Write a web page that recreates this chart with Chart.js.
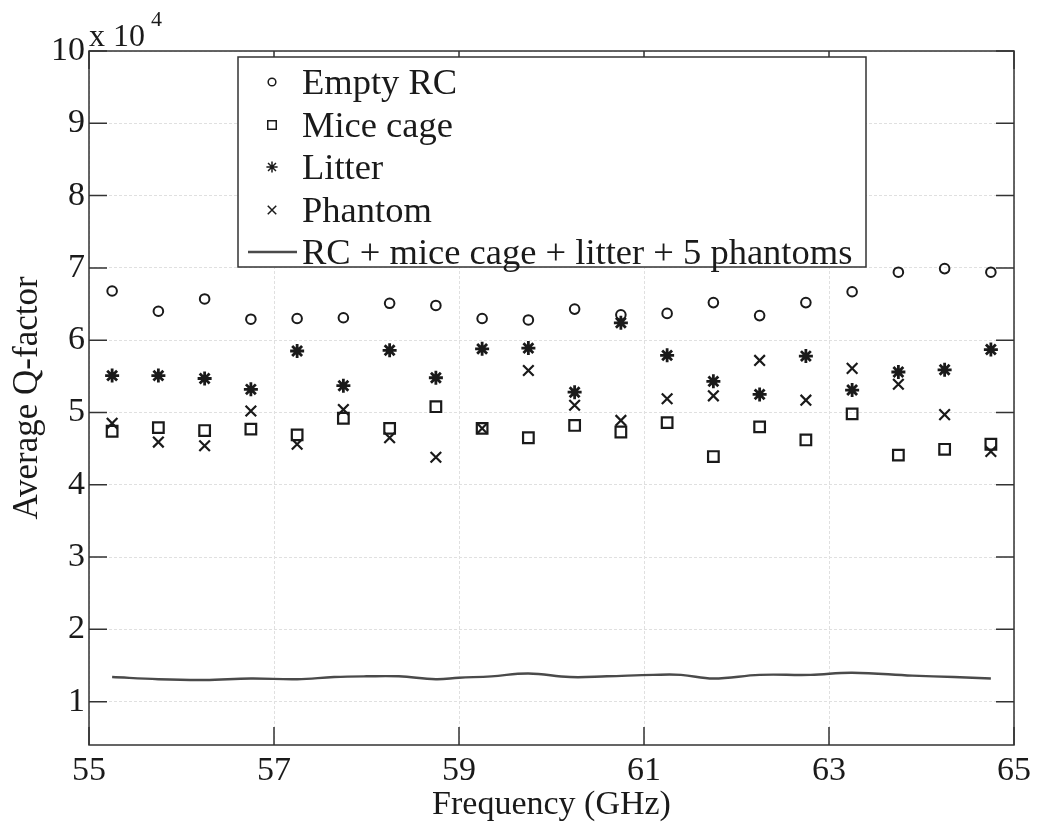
<!DOCTYPE html>
<html>
<head>
<meta charset="utf-8">
<script src="https://cdn.jsdelivr.net/npm/chart.js@4.4.3/dist/chart.umd.min.js"></script>
<style>
  html, body { margin: 0; padding: 0; background: #fff; }
  #wrap { width: 1037px; height: 830px; }
</style>
</head>
<body>
<div id="wrap"><canvas id="qChart" width="1037" height="830"></canvas></div>
<script>
// values in units of 10^4
const freq = [55.25, 55.75, 56.25, 56.75, 57.25, 57.75, 58.25, 58.75, 59.25, 59.75,
              60.25, 60.75, 61.25, 61.75, 62.25, 62.75, 63.25, 63.75, 64.25, 64.75];
const emptyRC = [6.68, 6.40, 6.57, 6.29, 6.30, 6.31, 6.51, 6.48, 6.30, 6.28,
                 6.43, 6.35, 6.37, 6.52, 6.34, 6.52, 6.67, 6.94, 6.99, 6.94];
const miceCage = [4.74, 4.79, 4.75, 4.77, 4.69, 4.92, 4.78, 5.08, 4.78, 4.65,
                  4.82, 4.73, 4.86, 4.39, 4.80, 4.62, 4.98, 4.41, 4.49, 4.56];
const litter = [5.51, 5.51, 5.47, 5.32, 5.85, 5.37, 5.86, 5.48, 5.88, 5.89,
                5.28, 6.24, 5.79, 5.43, 5.25, 5.78, 5.31, 5.56, 5.59, 5.87];
const phantom = [4.85, 4.59, 4.54, 5.02, 4.56, 5.04, 4.65, 4.38, 4.78, 5.58,
                 5.10, 4.89, 5.19, 5.23, 5.72, 5.17, 5.61, 5.39, 4.97, 4.46];

// full setup curve
const lineFreq = [55.25, 55.75, 56.25, 56.75, 57.25, 57.65, 58.0, 58.35, 58.75, 59.0, 59.35, 59.75,
                  60.2, 60.6, 61.1, 61.4, 61.75, 62.25, 62.8, 63.25, 63.9, 64.35, 64.75];
const lineQ = [1.34, 1.31, 1.30, 1.32, 1.31, 1.34, 1.35, 1.35, 1.31, 1.33, 1.35, 1.39,
               1.34, 1.35, 1.37, 1.37, 1.32, 1.37, 1.37, 1.40, 1.36, 1.34, 1.32];

const xTicks = [55, 57, 59, 61, 63, 65];
const yTicks = [1, 2, 3, 4, 5, 6, 7, 8, 9, 10];

const serif = '"Liberation Serif", "Times New Roman", serif';
const ink = '#1a1a1a';

const pts = (xs, ys) => xs.map((x, i) => ({ x, y: ys[i] }));

const markerSet = (label, values, style, radius, bw) => ({
  label,
  data: pts(freq, values),
  showLine: false,
  pointStyle: style,
  pointRadius: radius,
  pointBorderWidth: bw,
  pointBorderColor: ink,
  pointBackgroundColor: 'rgba(0,0,0,0)',
  borderColor: ink
});

// frame, inward ticks, legend box and exponent label
const decorations = {
  id: 'decorations',
  afterDraw(chart) {
    const { ctx, chartArea: a, scales } = chart;
    const len = 18;
    ctx.save();
    ctx.strokeStyle = '#333';
    ctx.lineWidth = 1.5;
    ctx.beginPath();
    xTicks.forEach(v => {
      const px = scales.x.getPixelForValue(v);
      ctx.moveTo(px, a.bottom); ctx.lineTo(px, a.bottom - len);
      ctx.moveTo(px, a.top); ctx.lineTo(px, a.top + len);
    });
    yTicks.forEach(v => {
      const py = scales.y.getPixelForValue(v);
      ctx.moveTo(a.left, py); ctx.lineTo(a.left + len, py);
      ctx.moveTo(a.right, py); ctx.lineTo(a.right - len, py);
    });
    ctx.stroke();
    ctx.strokeRect(a.left, a.top, a.right - a.left, a.bottom - a.top);

    // legend
    const box = { x: 238, y: 57, w: 628, h: 210 };
    ctx.fillStyle = '#fff';
    ctx.fillRect(box.x, box.y, box.w, box.h);
    ctx.strokeRect(box.x, box.y, box.w, box.h);
    const rows = [82, 125, 167, 210, 252];
    ctx.textBaseline = 'middle';
    ctx.textAlign = 'left';
    chart.data.datasets.forEach((ds, i) => {
      const y = rows[i];
      if (ds.showLine) {
        ctx.strokeStyle = ds.borderColor;
        ctx.lineWidth = ds.borderWidth;
        ctx.beginPath();
        ctx.moveTo(248, y); ctx.lineTo(297, y);
        ctx.stroke();
      } else {
        ctx.fillStyle = 'rgba(0,0,0,0)';
        ctx.strokeStyle = ink;
        Chart.helpers.drawPoint(ctx, {
          pointStyle: ds.pointStyle,
          radius: ds.pointRadius * 0.8,
          borderWidth: ds.pointBorderWidth,
          rotation: 0
        }, 272, y);
      }
      ctx.fillStyle = ink;
      ctx.font = '36.5px ' + serif;
      ctx.fillText(ds.label, 302, y + 2);
    });

    // x 10^4
    ctx.fillStyle = ink;
    ctx.textBaseline = 'alphabetic';
    ctx.font = '32px ' + serif;
    ctx.fillText('x 10', 89, 46);
    ctx.font = '22px ' + serif;
    ctx.fillText('4', 151, 26);
    ctx.restore();
  }
};

new Chart(document.getElementById('qChart'), {
  type: 'scatter',
  data: {
    datasets: [
      markerSet('Empty RC', emptyRC, 'circle', 4.8, 2),
      markerSet('Mice cage', miceCage, 'rect', 7.5, 2.2),
      markerSet('Litter', litter, 'star', 7, 2.8),
      markerSet('Phantom', phantom, 'crossRot', 7.5, 2.2),
      {
        label: 'RC + mice cage + litter + 5 phantoms',
        data: pts(lineFreq, lineQ),
        showLine: true,
        tension: 0.4,
        pointRadius: 0,
        borderColor: '#4a4a4a',
        borderWidth: 2.4,
        fill: false
      }
    ]
  },
  options: {
    responsive: false,
    animation: false,
    layout: { padding: { top: 51, right: 21, left: 0, bottom: 0 } },
    plugins: {
      legend: { display: false },
      tooltip: { enabled: false }
    },
    scales: {
      x: {
        type: 'linear',
        min: 55,
        max: 65,
        ticks: {
          stepSize: 2,
          color: ink,
          padding: 6,
          maxRotation: 0,
          font: { family: serif, size: 34 }
        },
        grid: { color: '#e0e0e0', drawTicks: false, lineWidth: 1 },
        border: { display: false, dash: [3, 2] },
        title: {
          display: true,
          text: 'Frequency (GHz)',
          color: ink,
          font: { family: serif, size: 34 },
          padding: { top: 0, bottom: 5 }
        },
        afterFit: s => { s.height = 85; }
      },
      y: {
        type: 'linear',
        min: 0.4,
        max: 10,
        afterBuildTicks: s => { s.ticks = yTicks.map(v => ({ value: v })); },
        ticks: {
          color: ink,
          padding: 4,
          font: { family: serif, size: 34 }
        },
        grid: { color: '#e0e0e0', drawTicks: false, lineWidth: 1 },
        border: { display: false, dash: [3, 2] },
        title: {
          display: true,
          text: 'Average Q-factor',
          color: ink,
          font: { family: serif, size: 35 },
          padding: { top: 7, bottom: 0 }
        },
        afterFit: s => { s.width = 89; }
      }
    }
  },
  plugins: [decorations]
});
</script>
</body>
</html>
